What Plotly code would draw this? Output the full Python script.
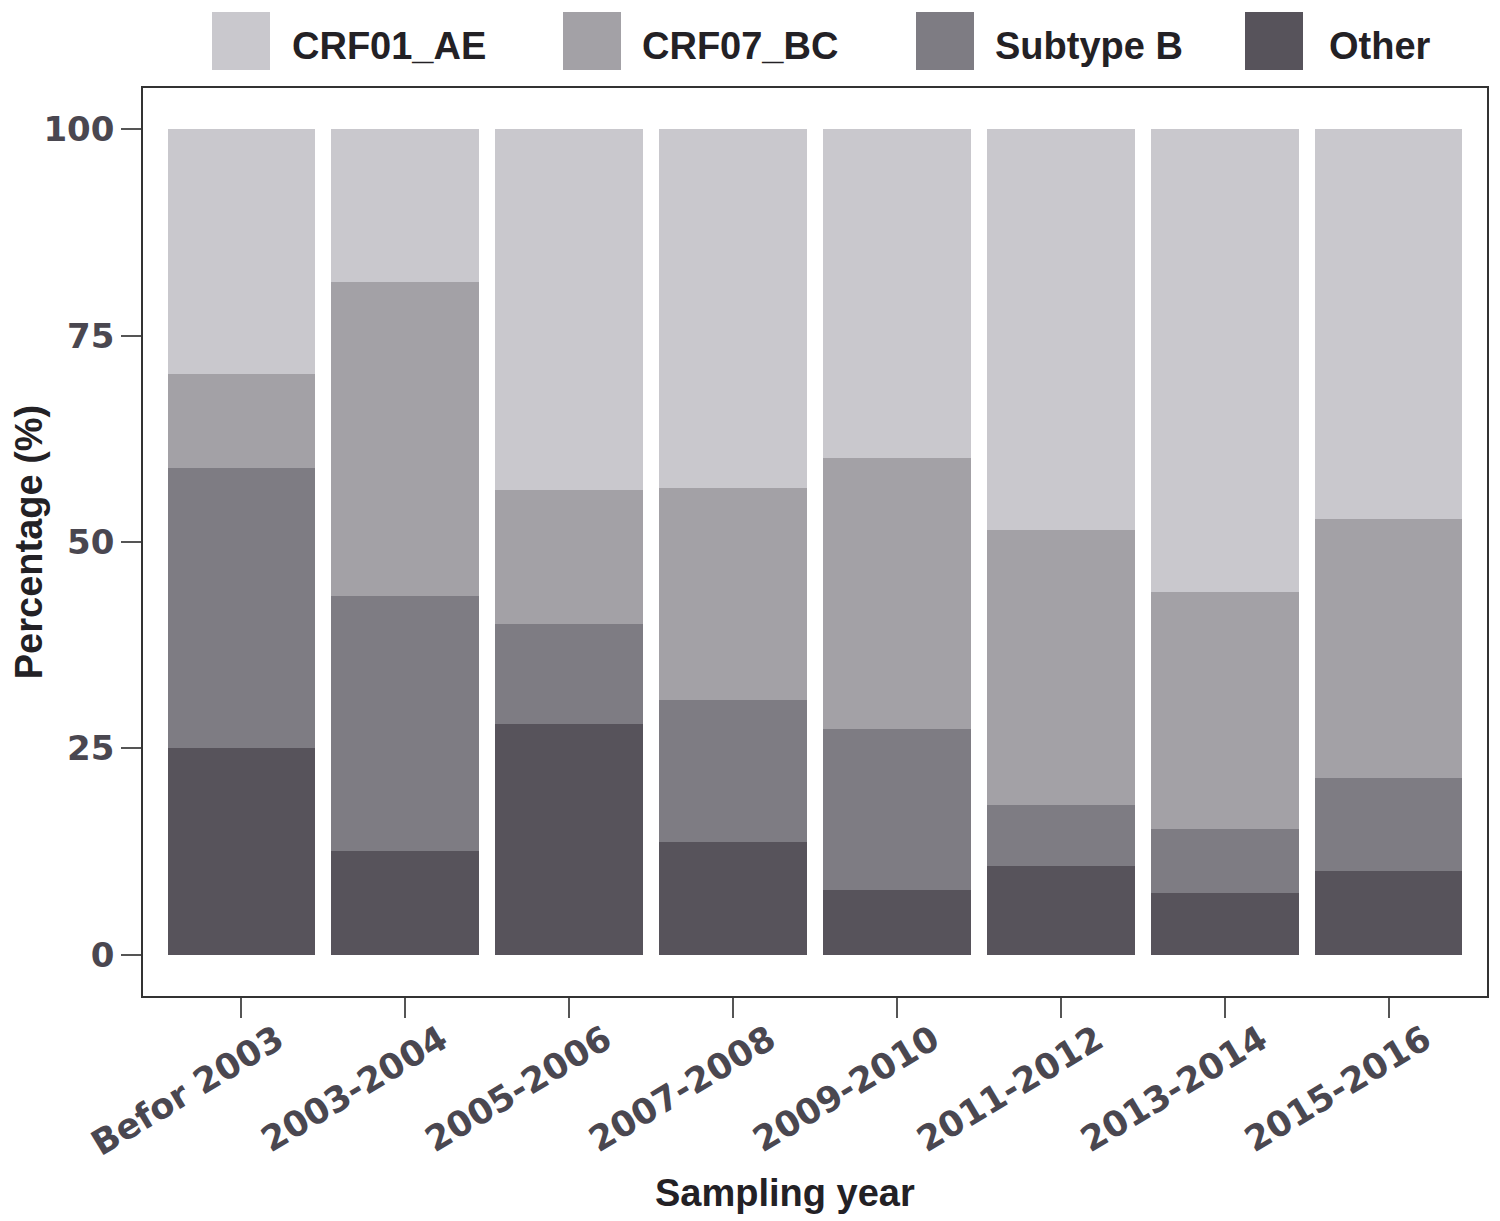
import plotly.graph_objects as go

categories = ["Befor 2003", "2003-2004", "2005-2006", "2007-2008",
              "2009-2010", "2011-2012", "2013-2014", "2015-2016"]
other = [25.0, 12.6, 27.9, 13.7, 7.9, 10.8, 7.5, 10.2]
subtype_b = [34.0, 30.9, 12.2, 17.1, 19.5, 7.3, 7.7, 11.2]
crf07_bc = [11.4, 38.0, 16.2, 25.8, 32.8, 33.4, 28.7, 31.4]
crf01_ae = [29.6, 18.5, 43.7, 43.4, 39.8, 48.5, 56.1, 47.2]

series_names = ["CRF01_AE", "CRF07_BC", "Subtype B", "Other"]
colors = {"CRF01_AE": "#c9c8cd", "CRF07_BC": "#a3a1a6",
          "Subtype B": "#7e7c83", "Other": "#57535b"}
values = {"CRF01_AE": crf01_ae, "CRF07_BC": crf07_bc,
          "Subtype B": subtype_b, "Other": other}

fig = go.Figure()
for name in ["Other", "Subtype B", "CRF07_BC", "CRF01_AE"]:
    fig.add_trace(go.Bar(x=categories, y=values[name], name=name,
                         marker=dict(color=colors[name], line=dict(width=0)),
                         width=0.9, showlegend=False))

# page offset of 8px (body margin) is compensated
OFF = 8
W, H = 1492, 1213
L, R, T, B = 135, 13, 80, 225
pw, ph = W - L - R, H - T - B

def px_to_paper(x, y):
    # x, y are screen pixel coordinates
    return (x - OFF - L) / pw, (H - B - (y - OFF)) / ph

legend_items = [(212, 290), (563, 640), (916, 993), (1245, 1327)]
shapes = []
annotations = []
for name, (sx, tx) in zip(series_names, legend_items):
    x0, y0 = px_to_paper(sx, 70)
    x1, y1 = px_to_paper(sx + 58, 12)
    shapes.append(dict(type="rect", xref="paper", yref="paper",
                       x0=x0, x1=x1, y0=y0, y1=y1,
                       fillcolor=colors[name], line=dict(width=0)))
    ax, ay = px_to_paper(tx, 46)
    annotations.append(dict(text=name, xref="paper", yref="paper",
                            x=ax, y=ay, xanchor="left", yanchor="middle",
                            showarrow=False,
                            font=dict(family="Liberation Sans", size=38,
                                      color="#232125", weight="bold")))

# x-axis title as annotation
tx_, ty_ = px_to_paper(785, 1193)
annotations.append(dict(text="Sampling year", xref="paper", yref="paper",
                        x=tx_, y=ty_, xanchor="center", yanchor="middle",
                        showarrow=False,
                        font=dict(family="Liberation Sans", size=38,
                                  color="#232125", weight="bold")))

fig.update_layout(
    width=W, height=H,
    margin=dict(l=L, r=R, t=T, b=B, autoexpand=False),
    paper_bgcolor="white", plot_bgcolor="white",
    barmode="stack", bargap=0.1,
    shapes=shapes, annotations=annotations,
    font=dict(family="Liberation Sans"),
)
fig.update_xaxes(
    range=[-0.6, 7.6], showgrid=False, zeroline=False, automargin=False,
    showline=True, mirror=True, linecolor="#333333", linewidth=1.5,
    ticks="outside", ticklen=20, tickcolor="#555555", tickwidth=1.5,
    tickangle=-31, ticklabelshift=36, ticklabelstandoff=-12,
    tickfont=dict(family="DejaVu Sans", size=35, color="#4a4750", weight="bold"),
)
fig.update_yaxes(
    range=[-5, 105], showgrid=False, zeroline=False, automargin=False,
    showline=True, mirror=True, linecolor="#333333", linewidth=1.5,
    ticks="outside", ticklen=20, tickcolor="#555555", tickwidth=1.5,
    tickvals=[0, 25, 50, 75, 100],
    tickfont=dict(family="DejaVu Sans", size=34, color="#4a4750", weight="bold"),
    title=dict(text="Percentage (%)", standoff=8,
               font=dict(family="Liberation Sans", size=38, color="#232125", weight="bold")),
)

fig.write_html("out.html")
